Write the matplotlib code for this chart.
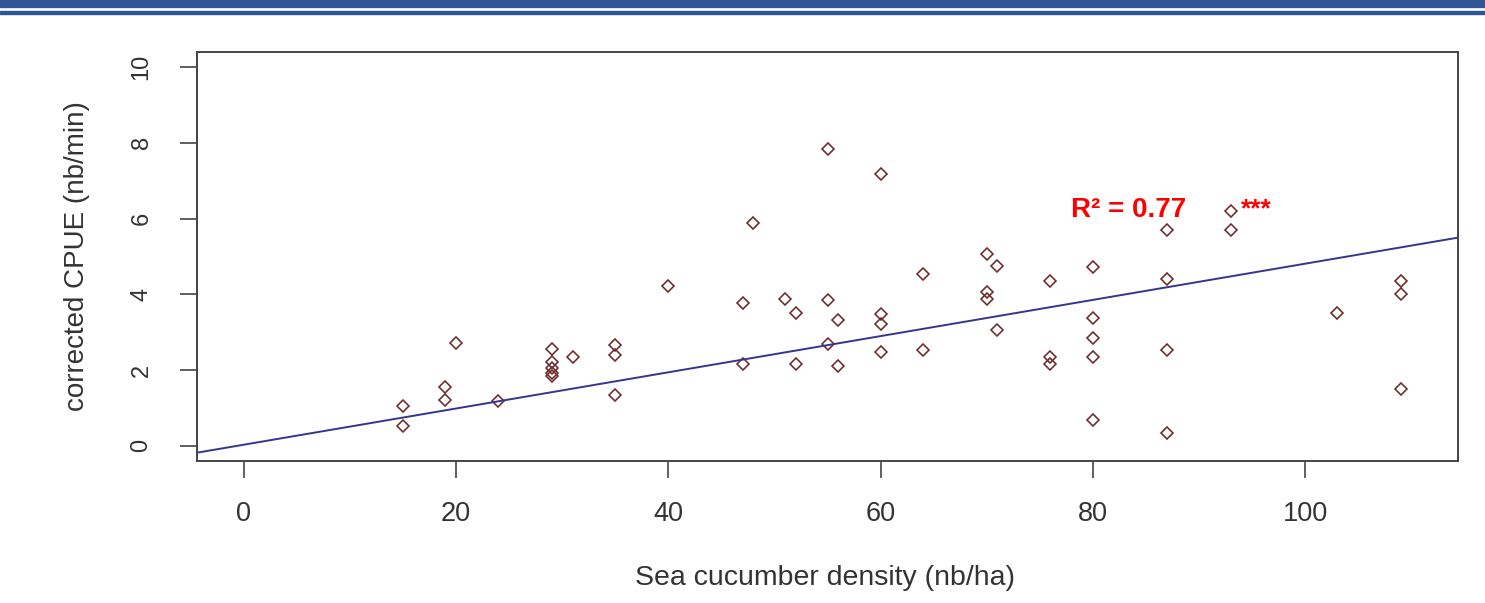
import numpy as np
import matplotlib
matplotlib.use('Agg')
import matplotlib.pyplot as plt
from matplotlib.patches import Rectangle

plt.rcParams['font.family'] = ['Liberation Sans', 'DejaVu Sans']

# densite (nb/ha) et CPUE corrigee (nb/min)
density = [15, 15, 19, 19, 20, 24, 29, 29, 29, 29, 29, 31, 35, 35, 35,
           40, 47, 47, 48, 51, 52, 52, 55, 55, 55, 56, 56,
           60, 60, 60, 60, 64, 64, 70, 70, 70, 71, 71, 76, 76, 76,
           80, 80, 80, 80, 80, 87, 87, 87, 87, 93, 93, 103, 109, 109, 109]
cpue = [1.04, 0.53, 1.55, 1.22, 2.71, 1.19, 2.57, 2.22, 2.05, 1.93, 1.85, 2.34, 2.67, 2.39, 1.35,
        4.22, 3.78, 2.17, 5.88, 3.88, 3.51, 2.17, 7.83, 3.85, 2.68, 3.32, 2.11,
        7.18, 3.47, 3.23, 2.48, 4.54, 2.53, 5.06, 4.07, 3.89, 4.76, 3.05, 4.36, 2.34, 2.17,
        4.72, 3.38, 2.86, 2.35, 0.67, 5.69, 4.40, 2.53, 0.35, 6.21, 5.69, 3.51, 4.36, 4.02, 1.50]

# droite de regression
fit_intercept = 0.03
fit_slope = 0.0478

r2_label = 'R² = 0.77'
signif_label = '***'

fig = plt.figure(figsize=(14.85, 6.03), dpi=100)

# bandeau bleu en haut
fig.patches.append(Rectangle((0, 1 - 7 / 603), 1, 7 / 603, transform=fig.transFigure,
                             color='#2f5597', zorder=0))
fig.patches.append(Rectangle((0, 1 - 14 / 603), 1, 3 / 603, transform=fig.transFigure,
                             color='#2f5597', zorder=0))

ax = fig.add_axes([197 / 1485, 1 - 461 / 603, 1261 / 1485, 409 / 603])

ax.plot(density, cpue, linestyle='none', marker='D', markersize=6.3,
        markerfacecolor='none', markeredgecolor='#6e2a2a', markeredgewidth=1.15)

xlim = (-4.4, 114.4)
xs = np.array(xlim)
ax.plot(xs, fit_intercept + fit_slope * xs, color='#35358c', linewidth=1.4)

ax.set_xlim(*xlim)
ax.set_ylim(-0.4, 10.4)
ax.set_xticks([0, 20, 40, 60, 80, 100])
ax.set_yticks([0, 2, 4, 6, 8, 10])

for s in ax.spines.values():
    s.set_color('#444444')
    s.set_linewidth(1.4)

ax.tick_params(axis='x', length=12, width=1.2, color='#444444', pad=17,
               labelsize=19.5, labelcolor='#333333')
ax.tick_params(axis='y', length=12, width=1.2, color='#444444', pad=20,
               labelsize=17, labelcolor='#333333')
for lab in ax.get_yticklabels():
    lab.set_rotation(90)
    lab.set_verticalalignment('center')

ax.set_xlabel('Sea cucumber density (nb/ha)', fontsize=20.5, color='#333333')
ax.set_ylabel('corrected CPUE (nb/min)', fontsize=20, color='#333333')
ax.xaxis.set_label_coords(0.498, -0.255)
ax.yaxis.set_label_coords(-0.085, 0.5)

ax.text(77.9, 6.05, r2_label, color='red', fontsize=20, fontweight='bold',
        va='baseline', ha='left')
ax.text(94.0, 6.05, signif_label, color='red', fontsize=19, fontweight='bold',
        va='baseline', ha='left')

fig.savefig('out.png', dpi=100)
